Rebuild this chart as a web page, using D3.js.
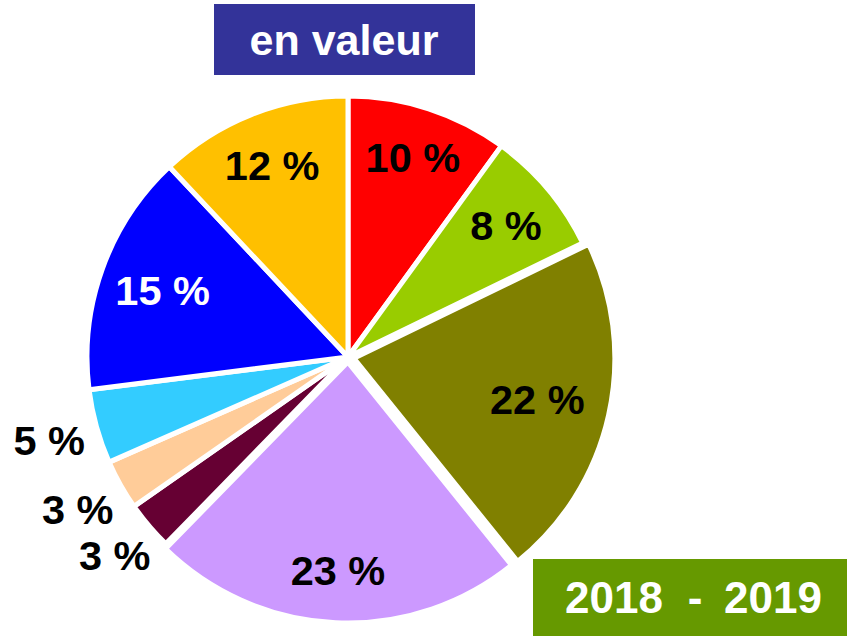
<!DOCTYPE html>
<html>
<head>
<meta charset="utf-8">
<script src="https://cdn.jsdelivr.net/npm/d3@7"></script>
<style>
  html, body { margin: 0; padding: 0; background: #fff; }
  svg { display: block; }
</style>
</head>
<body>
<svg id="chart" width="847" height="636"></svg>
<script>
// ---- data ----
const categories = ["A", "B", "C", "D", "E", "F", "G", "H", "I"];
const values = [10.0, 7.8, 21.4, 23.1, 3.0, 3.1, 4.6, 15.0, 12.0];
const labels = ["10 %", "8 %", "22 %", "23 %", "3 %", "3 %", "5 %", "15 %", "12 %"];
const colors = ["#ff0000", "#99cc00", "#808000", "#cc99ff", "#660033", "#ffcc99", "#33ccff", "#0000ff", "#ffc000"];
const labelColors = ["#000", "#000", "#000", "#000", "#000", "#000", "#000", "#fff", "#000"];
const title = "en valeur";
const period = ["2018", "-", "2019"];

// ---- layout (not data) ----
const explode = [0, 0, 6, 5, 0, 0, 0, 0, 0];
const labelRadius = [210, 206, 194, 213, 306, 310, 310, 197, 206];

const svg = d3.select("#chart");
const cx = 348, cy = 357, R = 261;
const font = "'Liberation Sans', Arial, sans-serif";

const pie = d3.pie().sort(null).value(d => d.value).startAngle(0).endAngle(2 * Math.PI);
const data = categories.map((c, i) => ({ cat: c, value: values[i], label: labels[i], color: colors[i], lc: labelColors[i], ex: explode[i], lr: labelRadius[i] }));
const arcs = pie(data);
const arc = d3.arc().innerRadius(0).outerRadius(R);

const g = svg.append("g").attr("transform", `translate(${cx},${cy})`);

g.selectAll("path.slice").data(arcs).enter().append("path")
  .attr("class", "slice")
  .attr("d", arc)
  .attr("fill", d => d.data.color)
  .attr("stroke", "#fff")
  .attr("stroke-width", 5)
  .attr("stroke-linejoin", "round")
  .attr("transform", d => {
    const a = (d.startAngle + d.endAngle) / 2;
    return `translate(${Math.sin(a) * d.data.ex},${-Math.cos(a) * d.data.ex})`;
  });

g.selectAll("text.lbl").data(arcs).enter().append("text")
  .attr("class", "lbl")
  .attr("transform", d => {
    const p = d3.arc().innerRadius(d.data.lr).outerRadius(d.data.lr).centroid(d);
    return `translate(${p[0]},${p[1]})`;
  })
  .attr("text-anchor", "middle")
  .attr("dy", "0.36em")
  .attr("font-family", font)
  .attr("font-weight", "bold")
  .attr("font-size", 41.5)
  .attr("fill", d => d.data.lc)
  .text(d => d.data.label);

// title box
svg.append("rect").attr("x", 214).attr("y", 4).attr("width", 261).attr("height", 71).attr("fill", "#333399");
svg.append("text").attr("x", 344).attr("y", 55).attr("text-anchor", "middle")
  .attr("font-family", font).attr("font-weight", "bold").attr("font-size", 43)
  .attr("fill", "#fff").text(title);

// period box
svg.append("rect").attr("x", 533).attr("y", 559).attr("width", 314).attr("height", 77).attr("fill", "#669900");
const pt = svg.append("g").attr("font-family", font).attr("font-weight", "bold").attr("font-size", 44).attr("fill", "#fff");
pt.append("text").attr("x", 565).attr("y", 613).attr("text-anchor", "start").text(period[0]);
pt.append("text").attr("x", 695).attr("y", 613).attr("text-anchor", "middle").text(period[1]);
pt.append("text").attr("x", 822).attr("y", 613).attr("text-anchor", "end").text(period[2]);
</script>
</body>
</html>
